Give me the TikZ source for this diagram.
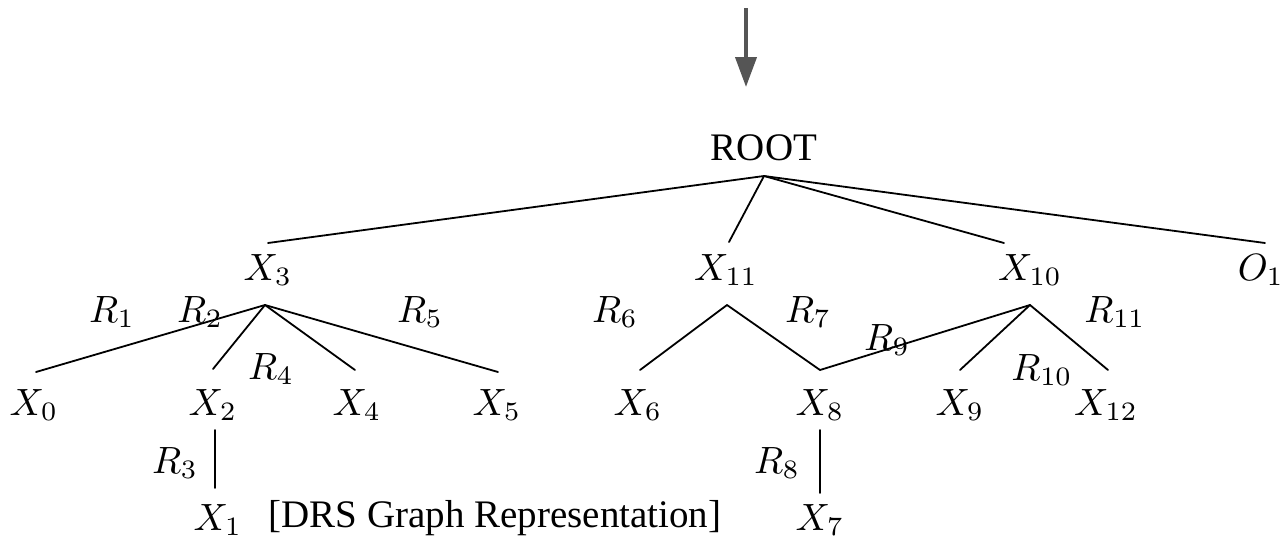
\documentclass[tikz,border=0pt]{standalone}
\usepackage[no-math]{fontspec}
\setmainfont{Liberation Serif}
\usetikzlibrary{arrows.meta}
\definecolor{arrowgray}{HTML}{555555}
\begin{document}
\begin{tikzpicture}[x=1pt,y=-1pt,
  lbl/.style={font=\normalsize, inner sep=0pt, scale=3.8, transform shape},
  txt/.style={font=\fontsize{39}{44}\selectfont, inner sep=0pt},
  rlbl/.style={font=\normalsize, inner sep=0pt, scale=3.8, transform shape},
  edge/.style={line width=1.8pt, line cap=round}]
\useasboundingbox (0,0) rectangle (1283,542);
% top arrow
\coordinate (as) at (746,8);
\coordinate (ae) at (746,87);
\draw[arrowgray, line width=4pt, -{Triangle[length=30pt,width=21pt]}] (as) -- (ae);
% nodes
\node[txt] (root) at (764,148) {ROOT};
\node[lbl] (x3) at (268,270) {$X_3$};
\node[lbl] (x11) at (726,270) {$X_{11}$};
\node[lbl] (x10) at (1030,270) {$X_{10}$};
\node[lbl] (o1) at (1261,270) {$O_1$};
\node[lbl] (x0) at (34,405) {$X_0$};
\node[lbl] (x2) at (213,405) {$X_2$};
\node[lbl] (x4) at (357,405) {$X_4$};
\node[lbl] (x5) at (497,405) {$X_5$};
\node[lbl] (x6) at (638,405) {$X_6$};
\node[lbl] (x8) at (820,405) {$X_8$};
\node[lbl] (x9) at (960,405) {$X_9$};
\node[lbl] (x12) at (1106,405) {$X_{12}$};
\node[lbl] (x1) at (218,520) {$X_1$};
\node[lbl] (x7) at (820,520) {$X_7$};
\node[txt] (cap) at (495,518) {[DRS Graph Representation]};
% relation labels
\node[rlbl] (r1) at (112,312) {$R_1$};
\node[rlbl] (r2) at (200,312) {$R_2$};
\node[rlbl] (r5) at (420,312) {$R_5$};
\node[rlbl] (r4) at (271,369) {$R_4$};
\node[rlbl] (r3) at (175,463) {$R_3$};
\node[rlbl] (r6) at (615,312) {$R_6$};
\node[rlbl] (r7) at (808,312) {$R_7$};
\node[rlbl] (r9) at (887,340) {$R_9$};
\node[rlbl] (r11) at (1115,312) {$R_{11}$};
\node[rlbl] (r10) at (1042,370) {$R_{10}$};
\node[rlbl] (r8) at (777,463) {$R_8$};
% connector end points
\coordinate (rootb) at (764,176);
\coordinate (x3t) at (268,243);
\coordinate (x11t) at (729,242);
\coordinate (x10t) at (1004,243);
\coordinate (o1t) at (1265,243);
\coordinate (x3b) at (265,305);
\coordinate (x0t) at (36,372);
\coordinate (x2t) at (213,369);
\coordinate (x4t) at (355,370);
\coordinate (x5t) at (498,372);
\coordinate (x11b) at (727,305);
\coordinate (x6t) at (640,370);
\coordinate (x8t) at (820,370);
\coordinate (x10b) at (1030,305);
\coordinate (x9t) at (960,370);
\coordinate (x12t) at (1108,370);
\coordinate (x2b) at (215,430);
\coordinate (x1t) at (215,488);
\coordinate (x8b) at (820,430);
\coordinate (x7t) at (820,493);
% connectors
\draw[edge] (rootb) -- (x3t);
\draw[edge] (rootb) -- (x11t);
\draw[edge] (rootb) -- (x10t);
\draw[edge] (rootb) -- (o1t);
\draw[edge] (x3b) -- (x0t);
\draw[edge] (x3b) -- (x2t);
\draw[edge] (x3b) -- (x4t);
\draw[edge] (x3b) -- (x5t);
\draw[edge] (x11b) -- (x6t);
\draw[edge] (x11b) -- (x8t);
\draw[edge] (x8t) -- (x10b);
\draw[edge] (x10b) -- (x9t);
\draw[edge] (x10b) -- (x12t);
\draw[edge] (x2b) -- (x1t);
\draw[edge] (x8b) -- (x7t);
\end{tikzpicture}
\end{document}
